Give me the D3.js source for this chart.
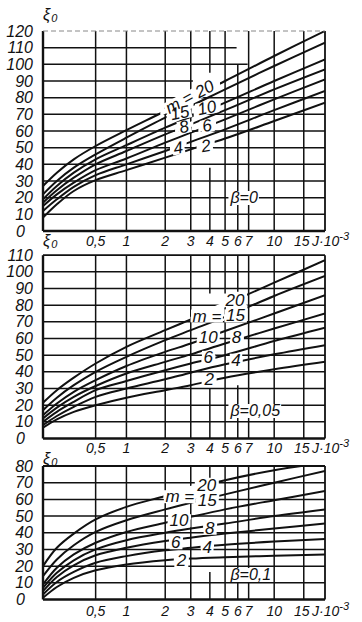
<!DOCTYPE html>
<html>
<head>
<meta charset="utf-8">
<script src="https://cdn.jsdelivr.net/npm/d3@7"></script>
<style>
  body { margin: 0; background: #fff; }
  svg { display: block; }
  text { font-family: "Liberation Sans", "DejaVu Sans", sans-serif; font-style: italic; fill: #111; }
  .narrow { font-family: "Liberation Sans Narrow", "Liberation Sans", sans-serif; }
</style>
</head>
<body>
<svg id="chart" width="362" height="622"></svg>
<script>
var J_POINTS = [0, 0.1, 0.25, 0.5, 1, 2, 3, 5, 10, 20];
var M_LIST = [20, 15, 10, 8, 6, 4, 2];

// xi0 per m (rows follow M_LIST)
var XI_BETA_0 = [
  [27, 35, 43, 51, 60.5, 72, 80, 90, 105, 120],
  [22, 30, 38, 46, 56, 68, 75, 85, 99, 113],
  [19, 27, 35, 43, 51.5, 62, 68.5, 77, 90, 103],
  [17, 24.5, 32, 40, 48, 58, 64, 72.5, 85, 97],
  [15, 22, 29, 36.5, 43.5, 53, 59, 67, 79, 91],
  [12, 19, 26.5, 33.5, 40, 48, 53.5, 61, 72.5, 84],
  [8, 16, 24, 30.5, 36.5, 44, 49, 55.5, 66, 77]
];
var XI_BETA_005 = [
  [21.5, 29, 36.5, 45, 55, 65, 71.5, 80.5, 93.5, 107],
  [17, 24.5, 32, 40, 49, 59, 65, 73, 85.5, 97.5],
  [14, 21, 28, 35, 43.5, 52, 57, 64.5, 75, 86],
  [12, 18.5, 25, 31.5, 39, 46, 50.5, 57, 66, 75],
  [10, 16, 22, 29, 34.5, 41, 45, 50, 58.5, 66.5],
  [8, 13.5, 19, 25, 30, 35.5, 39.5, 44.5, 50.5, 56],
  [6.5, 11.5, 16, 20, 24.5, 29, 32, 36.5, 41.5, 46]
];
var XI_BETA_01 = [
  [20, 31, 39.5, 48, 55.5, 62, 66.5, 71.5, 77.5, 82],
  [14, 24, 32.5, 40.5, 47.5, 54, 58, 63, 70, 77],
  [9, 19, 27, 34, 40.5, 46, 49.5, 54, 59.5, 65],
  [7, 16, 23.5, 30, 35.5, 40, 42.5, 45.5, 50, 54],
  [5, 13.5, 20.5, 26.5, 31, 35, 37, 39.5, 42.5, 45.5],
  [3, 10.5, 16.5, 22, 26, 29.5, 31, 32.8, 34.7, 36.3],
  [1, 7.5, 13, 17.5, 21, 23.5, 24.5, 25.3, 26.2, 27]
];

// axis ticks
var X_TICKS = [0.5, 1, 2, 3, 4, 5, 6, 7, 10, 15];
var X_TICK_LABELS = ['0,5', '1', '2', '3', '4', '5', '6', '7', '10', '15'];
var Y_TICKS_B0 = [0, 10, 20, 30, 40, 50, 60, 70, 80, 90, 100, 110, 120];
var Y_TICKS_B005 = [0, 10, 20, 30, 40, 50, 60, 70, 80, 90, 100, 110];
var Y_TICKS_B01 = [0, 10, 20, 30, 40, 50, 60, 70, 80];
var BETA_TEXT = ['β=0', 'β=0,05', 'β=0,1'];

// curve labels: [text, J, xi, curve index]
var LABELS_B0 = [
  ['m = 20', 2.96, 80.4, 0], ['15', 2.53, 70.8, 1], ['10', 3.83, 73.8, 2],
  ['8', 2.7, 62.4, 3], ['6', 3.83, 63, 4], ['4', 2.47, 49.8, 5], ['2', 3.77, 51, 6]
];
var LABELS_B005 = [
  ['m =', 3.83, 73.5, 0], ['20', 5.77, 83.1, 0], ['15', 5.8, 73.6, 1], ['10', 3.9, 60.7, 2],
  ['8', 5.9, 60.5, 3], ['6', 3.9, 48.7, 4], ['4', 5.85, 47, 5], ['2', 3.97, 35.5, 6]
];
var LABELS_B01 = [
  ['m =', 2.53, 61.6, 0], ['20', 3.82, 68.6, 0], ['15', 3.85, 59.6, 1], ['10', 2.5, 47.2, 2],
  ['8', 4.0, 42.7, 3], ['6', 2.37, 34, 4], ['4', 3.85, 31.3, 5], ['2', 2.6, 23.2, 6]
];

var INK = '#111';
var LEFT = 43, RIGHT = 325;

var svg = d3.select('#chart');
var defs = svg.append('defs');

// the J axis is logarithmic in (J + 0.5)
var x = d3.scaleLog().domain([0.5, 20.5]).range([LEFT, RIGHT]);
function xJ(J) { return x(J + 0.5); }

var PANELS = [
  { data: XI_BETA_0, yTicks: Y_TICKS_B0, labels: LABELS_B0, beta: BETA_TEXT[0],
    top: 31, bottom: 231, tickBase: 246, xiBase: 20, betaAt: [5.4, 16.8],
    rot: [-28, -12, -12, -14, -12, -10, -10], faintTop: true,
    hEnds: { 110: 5.9, 100: 6.9, 90: 3.1 },
    vSegs: { 4: [[95, 120], [0, 38]], 6: [[0, 99.6]] } },
  { data: XI_BETA_005, yTicks: Y_TICKS_B005, labels: LABELS_B005, beta: BETA_TEXT[1],
    top: 255.2, bottom: 438.5, tickBase: 453, xiBase: 246, betaAt: [5.4, 13.5],
    rot: [0, 0, 0, 0, 0, 0, 0, 0], faintTop: false, hEnds: {},
    vSegs: { 4: [[87, 110], [0, 30]], 6: [[88, 110], [0, 32]] } },
  { data: XI_BETA_01, yTicks: Y_TICKS_B01, labels: LABELS_B01, beta: BETA_TEXT[2],
    top: 466, bottom: 599.5, tickBase: 616, xiBase: 464, betaAt: [5.4, 11.7],
    rot: [0, 0, 0, 0, 0, 0, 0, 0], faintTop: false, hEnds: {},
    vSegs: { 4: [[73, 80], [0, 16.5]] } }
];

function drawPanel(p, idx) {
  var g = svg.append('g');
  var yMax = p.yTicks[p.yTicks.length - 1];
  var y = d3.scaleLinear().domain([0, yMax]).range([p.bottom, p.top]);

  var clipId = 'plot-' + idx;
  defs.append('clipPath').attr('id', clipId).append('rect')
    .attr('x', LEFT).attr('y', p.top)
    .attr('width', RIGHT - LEFT).attr('height', p.bottom - p.top);

  // grid
  var grid = g.append('g').attr('stroke', INK).attr('stroke-width', 1.5);
  p.yTicks.slice(1, -1).forEach(function (v) {
    var end = p.hEnds[v] != null ? xJ(p.hEnds[v]) : RIGHT;
    grid.append('line').attr('x1', LEFT).attr('x2', end).attr('y1', y(v)).attr('y2', y(v));
  });
  X_TICKS.forEach(function (J) {
    var segs = p.vSegs[J] || [[0, yMax]];
    segs.forEach(function (s) {
      grid.append('line').attr('x1', xJ(J)).attr('x2', xJ(J))
        .attr('y1', y(s[0])).attr('y2', y(s[1]));
    });
  });

  // curves
  var line = d3.line()
    .x(function (d) { return xJ(d[0]); })
    .y(function (d) { return y(d[1]); })
    .curve(d3.curveCatmullRom.alpha(0.5));
  var series = p.data.map(function (row) {
    return J_POINTS.map(function (J, i) { return [J, row[i]]; });
  });
  var curveG = g.append('g').attr('clip-path', 'url(#' + clipId + ')');
  series.forEach(function (pts) {
    curveG.append('path').attr('d', line(pts))
      .attr('fill', 'none').attr('stroke', INK).attr('stroke-width', 2);
  });

  // frame
  var frame = g.append('g').attr('stroke', INK);
  frame.append('line').attr('x1', LEFT).attr('x2', LEFT).attr('y1', p.top).attr('y2', p.bottom).attr('stroke-width', 2.4);
  frame.append('line').attr('x1', LEFT).attr('x2', RIGHT).attr('y1', p.bottom).attr('y2', p.bottom).attr('stroke-width', 2.4);
  frame.append('line').attr('x1', RIGHT).attr('x2', RIGHT).attr('y1', p.top).attr('y2', p.bottom).attr('stroke-width', 1.8);
  var topLine = frame.append('line').attr('x1', LEFT).attr('x2', RIGHT).attr('y1', p.top).attr('y2', p.top);
  if (p.faintTop) {
    topLine.attr('stroke', '#888').attr('stroke-width', 1).attr('stroke-dasharray', '5 3');
  } else {
    topLine.attr('stroke-width', 1.8);
  }

  var gapG = g.append('g');
  var boxG = g.append('g');
  var textG = g.append('g');

  // curve labels, each on a white patch that breaks the lines
  var gaps = {};
  p.labels.forEach(function (lb, i) {
    var px = xJ(lb[1]), py = y(lb[2]);
    var tr = 'rotate(' + p.rot[i] + ',' + px + ',' + py + ')';
    var t = textG.append('text').attr('class', 'narrow')
      .attr('x', px).attr('y', py)
      .attr('text-anchor', 'middle').attr('dominant-baseline', 'central')
      .attr('font-size', 17).attr('transform', tr)
      .text(lb[0]);
    var bb = t.node().getBBox();
    var h = 13;
    boxG.append('rect').attr('x', bb.x - 1.5).attr('width', bb.width + 3)
      .attr('y', py - h / 2).attr('height', h)
      .attr('fill', '#fff').attr('transform', tr);
    var r = t.node().getBoundingClientRect();
    var c = lb[3];
    gaps[c] = gaps[c] ? [Math.min(gaps[c][0], r.left), Math.max(gaps[c][1], r.right)] : [r.left, r.right];
  });
  Object.keys(gaps).forEach(function (c) {
    var gid = 'gap-' + idx + '-' + c;
    defs.append('clipPath').attr('id', gid).append('rect')
      .attr('x', gaps[c][0] - 2).attr('width', gaps[c][1] - gaps[c][0] + 4)
      .attr('y', p.top).attr('height', p.bottom - p.top);
    gapG.append('path').attr('d', line(series[c]))
      .attr('fill', 'none').attr('stroke', '#fff').attr('stroke-width', 5)
      .attr('clip-path', 'url(#' + gid + ')');
  });

  // beta label
  var bt = textG.append('text').attr('class', 'narrow')
    .attr('x', xJ(p.betaAt[0])).attr('y', y(p.betaAt[1]))
    .attr('font-size', 16).text(p.beta);
  var bbb = bt.node().getBBox();
  boxG.append('rect').attr('x', bbb.x - 1).attr('y', bbb.y + 2)
    .attr('width', bbb.width + 2).attr('height', bbb.height - 3).attr('fill', '#fff');

  // y tick labels
  p.yTicks.forEach(function (v) {
    var t = g.append('text').attr('y', y(v)).attr('dominant-baseline', 'central')
      .attr('font-size', 16).text(v);
    if (v === 0) t.attr('x', 16).attr('text-anchor', 'start');
    else t.attr('x', LEFT - 10).attr('text-anchor', 'end');
  });

  // x tick labels
  X_TICKS.forEach(function (J, i) {
    var tx = xJ(J) - (J === 15 ? 2 : 0);
    g.append('text').attr('x', tx).attr('y', p.tickBase)
      .attr('text-anchor', 'middle').attr('font-size', 14)
      .text(X_TICK_LABELS[i]);
  });
  var jt = g.append('text').attr('x', 312).attr('y', p.tickBase).attr('font-size', 14);
  jt.append('tspan').text('J·10');
  jt.append('tspan').attr('dy', -6).attr('font-size', 11).text('-3');

  // axis name
  var xt = g.append('text').attr('x', LEFT).attr('y', p.xiBase).attr('font-size', 16);
  xt.append('tspan').text('ξ');
  xt.append('tspan').attr('dy', 2).attr('dx', 1).attr('font-size', 11).text('0');
}

PANELS.forEach(drawPanel);
</script>
</body>
</html>
